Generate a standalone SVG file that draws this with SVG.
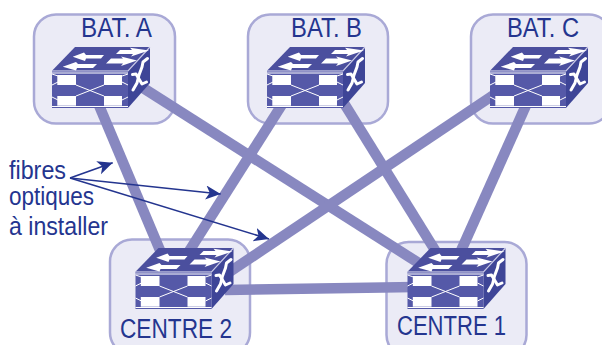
<svg xmlns="http://www.w3.org/2000/svg" width="602" height="345" viewBox="0 0 602 345">
<style>
.box{fill:#ebebf6;stroke:#a9a9d6;stroke-width:2.500}
.lnk{stroke:#8888c0;stroke-width:10.500;fill:none}
.ptr{stroke:#24358f;stroke-width:1.600;fill:none;marker-end:url(#ah)}
text{font-family:"Liberation Sans",Arial,sans-serif;fill:#24358f;font-size:27px}
.s{font-size:25px}
.w{fill:#fff}
.t{stroke:#fff;stroke-width:1;fill:none}
.x{stroke:#fff;stroke-width:3;fill:none;stroke-linejoin:round;stroke-linecap:round}
</style>
<defs>
<marker id="ah" markerUnits="userSpaceOnUse" markerWidth="18" markerHeight="16" refX="15" refY="7" orient="auto"><path d="M0 0L15 7L0 14L4 7Z" fill="#24358f"/></marker>
<g id="sw">
<path d="M23 0H98L76 23.700H0Z" fill="#4b4f9e"/>
<path d="M0 23.700H76V61H0Z" fill="#5559a8"/>
<path d="M76 23.700L98 0V36L76 61Z" fill="#3e4597"/>
<path d="M0 24H76L98 0" stroke="#c9c9e6" stroke-width="1.200" fill="none"/>
<path class="w" d="M32 5.500L20.700 9.700L33 14L34 11.500H49L52 8H34ZM68 3L64 7H81L79 9.500L97 3.500L78 0.800L80 3ZM24 15L10.700 19.700L24 23.500L25 21H41L45 17H26ZM59 11.500L54 16.500H71L69 19L85 13.500L69 9.500L71 11.500Z"/>
<path class="t" d="M0 26H76M0 59.500H76M0 38L6 35M76 38L70 35M0 50L6 53M76 50L70 53M0 27L6 29M76 27L70 29" stroke-width="0.800"/>
<rect class="w" x="5.300" y="28" width="18.700" height="10"/>
<rect class="w" x="52" y="28" width="18" height="10"/>
<rect class="w" x="5.300" y="49" width="18.700" height="9.700"/>
<rect class="w" x="52" y="49" width="18" height="9.700"/>
<path class="t" d="M24 38L52 49M24 49L52 38"/>
<path class="x" d="M95.500 11.500L91 15L90 20L87 28L85 36L81 43"/>
<path class="x" d="M80.500 27.500L84 27L87 32L90 37L94.500 35"/>
</g>
</defs>
<g id="n-a"><rect class="box" x="34" y="14.500" width="141" height="109" rx="22"/></g>
<g id="n-b"><rect class="box" x="248" y="14.500" width="140" height="109" rx="22"/></g>
<g id="n-c"><rect class="box" x="471" y="14.500" width="140" height="109" rx="22"/></g>
<g id="n-c2"><rect class="box" x="110" y="239.500" width="140" height="115" rx="22"/></g>
<g id="n-c1"><rect class="box" x="386.500" y="242" width="140" height="115" rx="22"/></g>
<g id="connectors">
<path class="lnk" d="M98 103L162 255"/>
<path class="lnk" d="M140 86L425 267"/>
<path class="lnk" d="M283 103L186 256"/>
<path class="lnk" d="M342 100L438 255"/>
<path class="lnk" d="M495 94L225 275"/>
<path class="lnk" d="M527 103L460 253"/>
<path class="lnk" d="M225 290L415 287"/>
<path class="ptr" d="M70 178L112.700 162.700"/>
<path class="ptr" d="M70 178L220.700 194"/>
<path class="ptr" d="M70 178L269 239"/>
</g>
<g id="sw-a"><use href="#sw" x="52" y="47"/><text x="81" y="37" textLength="71" lengthAdjust="spacingAndGlyphs">BAT. A</text></g>
<g id="sw-b"><use href="#sw" x="267" y="47"/><text x="291" y="37" textLength="71" lengthAdjust="spacingAndGlyphs">BAT. B</text></g>
<g id="sw-c"><use href="#sw" x="490" y="47"/><text x="507" y="37" textLength="72" lengthAdjust="spacingAndGlyphs">BAT. C</text></g>
<g id="sw-c2"><use href="#sw" x="135.500" y="248"/><text x="120" y="338" textLength="112" lengthAdjust="spacingAndGlyphs">CENTRE 2</text></g>
<g id="sw-c1"><use href="#sw" x="407.500" y="248"/><text x="397" y="335" textLength="109" lengthAdjust="spacingAndGlyphs">CENTRE 1</text></g>
<g id="label">
<text class="s" x="9" y="179" textLength="57" lengthAdjust="spacingAndGlyphs">fibres</text>
<text class="s" x="9" y="205" textLength="85" lengthAdjust="spacingAndGlyphs">optiques</text>
<text class="s" x="9" y="235" textLength="99" lengthAdjust="spacingAndGlyphs">à installer</text>
</g>
</svg>
